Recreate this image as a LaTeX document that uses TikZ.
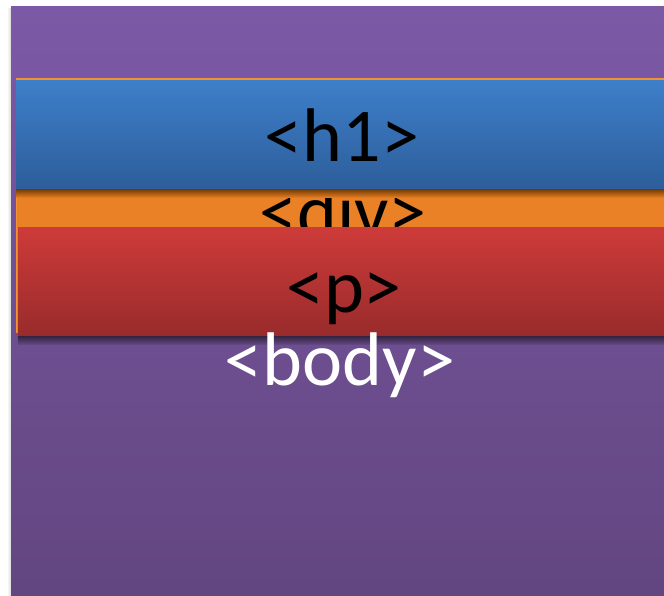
\documentclass[tikz,border=0pt]{standalone}
\usepackage{fontspec}
\setmainfont{Carlito}
\usepackage{xcolor}
\usepackage{tikz}

\definecolor{bodytop}{RGB}{124,89,166}
\definecolor{bodybot}{RGB}{98,70,128}
\definecolor{divfill}{RGB}{234,129,38}
\definecolor{divline}{RGB}{242,146,48}
\definecolor{hone}{RGB}{61,127,201}
\definecolor{honebot}{RGB}{45,93,154}
\definecolor{ptop}{RGB}{205,59,57}
\definecolor{pbot}{RGB}{154,43,44}

\begin{document}
\begin{tikzpicture}[x=1pt, y=-1pt,
    tag/.style={font=\fontsize{76}{82}\selectfont, anchor=base, inner sep=0pt}]
    \useasboundingbox (0,0) rectangle (664,596);

    % Body
    \shade[left color=white, right color=black!15] (7,9) rectangle (11,596);
    \shade[top color=bodytop, bottom color=bodybot] (11,7) rectangle (670,595);

    % Div
    \fill[divfill] (16,78) rectangle (670,333);
    \draw[divline, line width=1.5pt] (16,79) -- (670,79);
    \draw[divline, line width=1pt] (16.5,79) -- (16.5,333);
    \node[tag, text=black] (divtag) at (343,238) {<div>};

    % H1
    \shade[top color=orange!45!black, bottom color=divfill] (16,189) rectangle (670,198);
    \shade[top color=hone, bottom color=honebot] (16,81) rectangle (670,189);
    \node[tag, text=black] (honetag) at (342,162) {<h1>};

    % P
    \shade[top color=bodybot!45!black, bottom color=bodybot] (18,335) rectangle (670,344);
    \shade[top color=ptop, bottom color=pbot] (18,228) rectangle (670,335);
    \node[tag, text=black] (ptag) at (344,312) {<p>};

    % Body label
    \node[tag, text=white] (bodytag) at (340,385) {<body>};
\end{tikzpicture}
\end{document}
